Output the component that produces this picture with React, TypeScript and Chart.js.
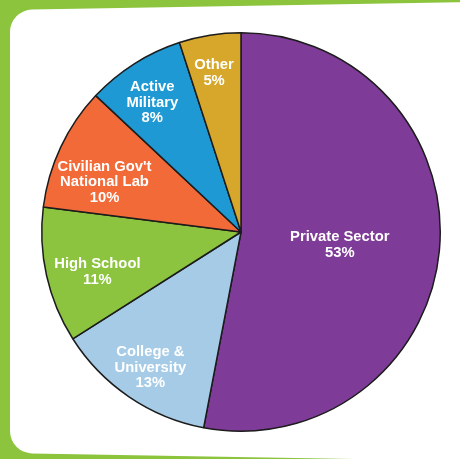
import React, { useEffect, useRef } from "react";
import { Chart, registerables } from "chart.js";

Chart.register(...registerables);

const categories = ["Private Sector", "College & University", "High School", "Civilian Gov't National Lab", "Active Military", "Other"];
const labelLines = [
  ["Private Sector"],
  ["College &", "University"],
  ["High School"],
  ["Civilian Gov't", "National Lab"],
  ["Active", "Military"],
  ["Other"],
];
const shares = [53, 13, 11, 10, 8, 5];
const sliceColors = ["#7e3b97", "#a6cbe6", "#8cc43f", "#f26a38", "#1e99d3", "#d6a72b"];

// label placement: fraction of radius and angular offset (deg) from slice middle
const labelRadius = [0.5, 0.818, 0.748, 0.729, 0.788, 0.81];
const labelAngleShift = [2.1, -0.4, -2.9, -5.2, -2, -0.6];

const labelPlugin = {
  id: "sliceLabels",
  afterDatasetsDraw(chart: any) {
    const ctx = chart.ctx;
    const meta = chart.getDatasetMeta(0);
    ctx.save();
    ctx.font = "bold 14.8px 'Liberation Sans', Arial, sans-serif";
    ctx.fillStyle = "#ffffff";
    ctx.textAlign = "center";
    ctx.textBaseline = "middle";
    const lh = 15.5;
    meta.data.forEach((arc: any, i: number) => {
      const { startAngle, endAngle, outerRadius, x, y } = arc.getProps(["startAngle", "endAngle", "outerRadius", "x", "y"], true);
      const mid = (startAngle + endAngle) / 2 + (labelAngleShift[i] * Math.PI) / 180;
      const r = outerRadius * labelRadius[i];
      const cx = x + Math.cos(mid) * r;
      const cy = y + Math.sin(mid) * r;
      const lines = [...labelLines[i], shares[i] + "%"];
      const top = cy - ((lines.length - 1) * lh) / 2;
      lines.forEach((t, k) => ctx.fillText(t, cx, top + k * lh));
    });
    ctx.restore();
  },
};

export default function App() {
  const ref = useRef<HTMLCanvasElement>(null);
  useEffect(() => {
    document.body.style.margin = "0";
    const chart = new Chart(ref.current!, {
      type: "pie",
      data: {
        labels: categories,
        datasets: [
          {
            data: shares,
            backgroundColor: sliceColors,
            borderColor: "#1c1c1c",
            borderWidth: 1.5,
          },
        ],
      },
      options: {
        animation: false,
        responsive: false,
        layout: { padding: { left: 41, right: 19, top: 32, bottom: 27 } },
        plugins: { legend: { display: false }, tooltip: { enabled: false } },
      },
      plugins: [labelPlugin],
    });
    return () => chart.destroy();
  }, []);
  return (
    <div style={{ position: "fixed", left: 0, top: 0, width: 460, height: 459, background: "#8cc43e", overflow: "hidden" }}>
      <div
        style={{
          position: "absolute",
          left: 10,
          top: 10,
          width: 470,
          height: 260,
          background: "#ffffff",
          borderRadius: "22px 22px 0 0",
          transform: "skewY(-1deg)",
          transformOrigin: "0 0",
        }}
      />
      <div
        style={{
          position: "absolute",
          left: 10,
          top: 200,
          width: 470,
          height: 253,
          background: "#ffffff",
          borderRadius: "0 0 0 22px",
          transform: "skewY(1deg)",
          transformOrigin: "0 0",
        }}
      />
      <canvas ref={ref} width={460} height={459} style={{ position: "absolute", left: 0, top: 0 }} />
    </div>
  );
}
